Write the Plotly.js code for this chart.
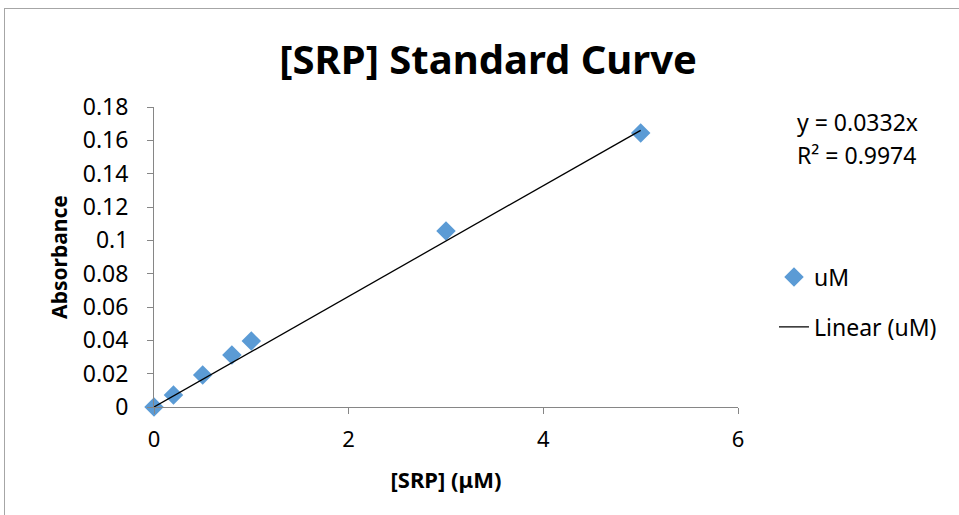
<!DOCTYPE html>
<html>
<head>
<meta charset="utf-8">
<script src="https://cdn.plot.ly/plotly-3.0.1.min.js"></script>
<style>
  html, body { margin: 0; padding: 0; background: #fff; }
  #wrap { position: relative; width: 959px; height: 515px; overflow: hidden; }
  #chart { position: absolute; left: 0; top: 0; width: 959px; height: 515px; }
  #frame { position: absolute; left: 4px; top: 8px; width: 1000px; height: 600px;
           border-left: 1px solid #a6a6a6; border-top: 1px solid #a6a6a6; pointer-events: none; }
</style>
</head>
<body>
<div id="wrap"><div id="chart"></div><div id="frame"></div></div>
<script>
// Data
const concentration = [0, 0.2, 0.5, 0.8, 1, 3, 5];           // [SRP] (µM)
const absorbance    = [0, 0.0072, 0.0192, 0.0312, 0.0396, 0.1056, 0.1644];
const trendX = [0, 5];
const trendY = [0, 0.166];
const equationLines = ["y = 0.0332x", "R² = 0.9974"];
const xTicks = [0, 2, 4, 6];
const yTicks = [0, 0.02, 0.04, 0.06, 0.08, 0.1, 0.12, 0.14, 0.16, 0.18];
const yTickText = ["0", "0.02", "0.04", "0.06", "0.08", "0.1", "0.12", "0.14", "0.16", "0.18"];

const FONT = "Noto Sans, Open Sans, sans-serif";

const traces = [
  {
    x: concentration, y: absorbance, type: "scatter", mode: "markers", name: "uM",
    marker: { symbol: "diamond", size: 15, color: "#5B9BD5" },
    legendgroup: "a", cliponaxis: false
  },
  {
    x: trendX, y: trendY, type: "scatter", mode: "lines", name: "Linear (uM)",
    line: { color: "#000000", width: 1.3 },
    legendgroup: "b"
  }
];

const layout = {
  width: 959, height: 515,
  margin: { l: 154, r: 221, t: 107, b: 108 },
  paper_bgcolor: "#ffffff", plot_bgcolor: "#ffffff",
  font: { family: FONT, color: "#000000", size: 22 },
  title: { text: "<b>[SRP] Standard Curve</b>", font: { family: FONT, size: 40, color: "#000" },
           x: 0.509, xanchor: "center", y: 0.883, yanchor: "middle" },
  xaxis: {
    range: [0, 6], tickvals: xTicks, ticktext: xTicks.map(String),
    showgrid: false, zeroline: false, showline: true, linecolor: "#868686", linewidth: 1,
    ticks: "outside", ticklen: 6, tickcolor: "#868686", ticklabelstandoff: 7,
    tickfont: { size: 22 },
    title: { text: "<b>[SRP] (μM)</b>", font: { size: 22 }, standoff: 20 }
  },
  yaxis: {
    range: [0, 0.18], tickvals: yTicks, ticktext: yTickText,
    showgrid: false, zeroline: false, showline: true, linecolor: "#868686", linewidth: 1,
    ticks: "outside", ticklen: 6, tickcolor: "#868686", ticklabelstandoff: 14,
    tickfont: { size: 23 },
    title: { text: "<b>Absorbance</b>", font: { size: 21 }, standoff: 9 }
  },
  showlegend: true,
  legend: {
    x: 1.0616, xanchor: "left", y: 0.35, yanchor: "middle",
    font: { size: 23 }, tracegroupgap: 17, traceorder: "grouped",
    bgcolor: "rgba(0,0,0,0)"
  },
  annotations: [
    { xref: "paper", yref: "paper", x: 1.097, y: 0.95, xanchor: "left", yanchor: "middle",
      text: equationLines[0], showarrow: false, font: { size: 23 } },
    { xref: "paper", yref: "paper", x: 1.097, y: 0.84, xanchor: "left", yanchor: "middle",
      text: equationLines[1], showarrow: false, font: { size: 23 } }
  ]
};

Plotly.newPlot("chart", traces, layout, { displayModeBar: false, staticPlot: true });
</script>
</body>
</html>
